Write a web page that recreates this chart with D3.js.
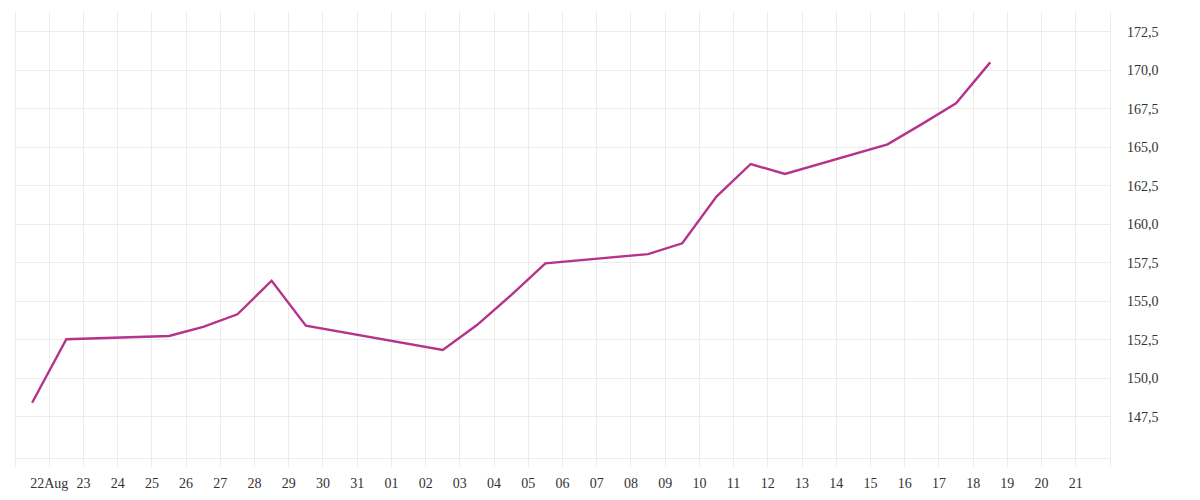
<!DOCTYPE html>
<html>
<head>
<meta charset="utf-8">
<script src="https://cdn.jsdelivr.net/npm/d3@7"></script>
<style>
  html, body { margin: 0; padding: 0; background: #ffffff; }
  svg { display: block; }
  text { font-family: "Liberation Serif", "Times New Roman", serif; font-size: 14px; fill: #333333; }
</style>
</head>
<body>
<svg id="chart" width="1200" height="500"></svg>
<script>
// ---- data ----
const dates = [
  "2025-08-21", "2025-08-22", "2025-08-25", "2025-08-26", "2025-08-27", "2025-08-28", "2025-08-29",
  "2025-09-02", "2025-09-03", "2025-09-04", "2025-09-05",
  "2025-09-08", "2025-09-09", "2025-09-10", "2025-09-11", "2025-09-12",
  "2025-09-15", "2025-09-16", "2025-09-17", "2025-09-18"
];
const prices = [
  148.41, 152.53, 152.74, 153.34, 154.15, 156.33, 153.41,
  151.83, 153.45, 155.40, 157.46,
  158.06, 158.76, 161.79, 163.91, 163.26,
  165.19, 166.50, 167.85, 170.51
];
const yTicks = [147.5, 150.0, 152.5, 155.0, 157.5, 160.0, 162.5, 165.0, 167.5, 170.0, 172.5];
const xStart = "2025-08-21";
const xEnd = "2025-09-22";

// ---- layout ----
const plot = { left: 15, right: 1110, top: 12, bottom: 458 };
const parse = d3.timeParse("%Y-%m-%d");

const x = d3.scaleTime()
  .domain([parse(xStart), parse(xEnd)])
  .range([plot.left, plot.right]);
const y = d3.scaleLinear()
  .domain([144.82, 173.78])
  .range([plot.bottom, plot.top]);

const svg = d3.select("#chart");
const gridColor = "#ececec";

// vertical grid (one per day)
const days = d3.timeDay.range(parse(xStart), d3.timeDay.offset(parse(xEnd), 1));
svg.append("g").selectAll("line").data(days).join("line")
  .attr("x1", d => x(d)).attr("x2", d => x(d))
  .attr("y1", plot.top).attr("y2", plot.bottom + 9)
  .attr("stroke", gridColor).attr("stroke-width", 1)
  .attr("shape-rendering", "crispEdges");

// horizontal grid
svg.append("g").selectAll("line").data(yTicks).join("line")
  .attr("x1", plot.left).attr("x2", plot.right)
  .attr("y1", d => y(d)).attr("y2", d => y(d))
  .attr("stroke", gridColor).attr("stroke-width", 1)
  .attr("shape-rendering", "crispEdges");
svg.append("line")
  .attr("x1", plot.left).attr("x2", plot.right)
  .attr("y1", plot.bottom).attr("y2", plot.bottom)
  .attr("stroke", gridColor).attr("shape-rendering", "crispEdges");

// x labels
const labelDays = days.filter(d => d > parse(xStart) && d < parse(xEnd));
const fmtDay = d3.timeFormat("%d");
svg.append("g").selectAll("text").data(labelDays).join("text")
  .attr("x", d => x(d))
  .attr("y", 488)
  .attr("text-anchor", "middle")
  .text((d, i) => i === 0 ? fmtDay(d) + "Aug" : fmtDay(d));

// y labels (right)
const fmtY = v => d3.format(".1f")(v).replace(".", ",");
svg.append("g").selectAll("text").data(yTicks).join("text")
  .attr("x", plot.right + 17)
  .attr("y", d => y(d))
  .attr("dy", "0.35em")
  .text(fmtY);

// line
const data = dates.map((d, i) => ({ date: parse(d), value: prices[i] }));
const line = d3.line()
  .x(d => x(d3.timeHour.offset(d.date, 12)))
  .y(d => y(d.value));
svg.append("path")
  .datum(data)
  .attr("d", line)
  .attr("fill", "none")
  .attr("stroke", "#b5338b")
  .attr("stroke-width", 2.4)
  .attr("stroke-linejoin", "miter");
</script>
</body>
</html>
